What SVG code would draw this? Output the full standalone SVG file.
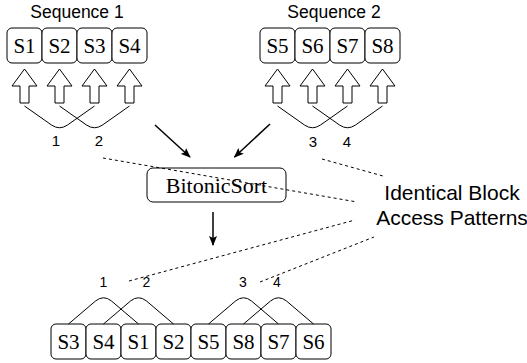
<svg xmlns="http://www.w3.org/2000/svg" xmlns:xlink="http://www.w3.org/1999/xlink" width="527" height="363" viewBox="0 0 527 363">
<style>
.box{fill:#fff;stroke:#000;stroke-width:1}
.st{font-size:21px;text-anchor:middle;fill:#000}
.lab{text-anchor:middle;fill:#000}
.cur{fill:none;stroke:#000;stroke-width:1}
.dash{fill:none;stroke:#000;stroke-width:1;stroke-dasharray:3,3}
.arr{fill:none;stroke:#000;stroke-width:1.5}
.blk{fill:#fff;stroke:#000;stroke-width:1}
</style>
<defs>
<marker id="ah" viewBox="0 0 10 8" refX="9" refY="4" markerWidth="10" markerHeight="8" markerUnits="userSpaceOnUse" orient="auto">
<path d="M0,0 L10,4 L0,8 L2,4 Z" fill="#000"/>
</marker>
<path id="up" d="M0,0 L12.5,17 L4.5,17 L4.5,34 L-4.5,34 L-4.5,17 L-12.5,17 Z"/>
<path id="vee" d="M0,0 L27,19 Q35,24.5 43,19 L70,0"/>
<path id="hat" d="M0,0 L27,-23 Q35,-29.5 43,-23 L70,0"/>
</defs>

<g font-family="'Liberation Sans', Arial, sans-serif">
<text class="lab" x="77" y="18" font-size="17.5">Sequence 1</text>
<text class="lab" x="334" y="18" font-size="17.5">Sequence 2</text>
</g>

<g font-family="'Liberation Serif', 'Times New Roman', serif">
<g id="seq1">
<g id="s1"><rect class="box" x="7" y="28" width="35" height="35" rx="5"/><text class="st" x="24.5" y="53">S1</text></g>
<g id="s2"><rect class="box" x="42" y="28" width="35" height="35" rx="5"/><text class="st" x="59.5" y="53">S2</text></g>
<g id="s3"><rect class="box" x="77" y="28" width="35" height="35" rx="5"/><text class="st" x="94.5" y="53">S3</text></g>
<g id="s4"><rect class="box" x="112" y="28" width="35" height="35" rx="5"/><text class="st" x="129.5" y="53">S4</text></g>
</g>
<g id="seq2">
<g id="s5"><rect class="box" x="260" y="28" width="35" height="35" rx="5"/><text class="st" x="277.5" y="53">S5</text></g>
<g id="s6"><rect class="box" x="295" y="28" width="35" height="35" rx="5"/><text class="st" x="312.5" y="53">S6</text></g>
<g id="s7"><rect class="box" x="330" y="28" width="35" height="35" rx="5"/><text class="st" x="347.5" y="53">S7</text></g>
<g id="s8"><rect class="box" x="365" y="28" width="35" height="35" rx="5"/><text class="st" x="382.5" y="53">S8</text></g>
</g>

<g id="bitonic"><rect class="box" x="147" y="168" width="139" height="34" rx="6"/><text class="st" x="216.5" y="193" style="font-size:22px">BitonicSort</text></g>

<g id="out">
<g id="o1"><rect class="box" x="51" y="324" width="35" height="35" rx="5"/><text class="st" x="68.5" y="349">S3</text></g>
<g id="o2"><rect class="box" x="86" y="324" width="35" height="35" rx="5"/><text class="st" x="103.5" y="349">S4</text></g>
<g id="o3"><rect class="box" x="121" y="324" width="35" height="35" rx="5"/><text class="st" x="138.5" y="349">S1</text></g>
<g id="o4"><rect class="box" x="156" y="324" width="35" height="35" rx="5"/><text class="st" x="173.5" y="349">S2</text></g>
<g id="o5"><rect class="box" x="191" y="324" width="35" height="35" rx="5"/><text class="st" x="208.5" y="349">S5</text></g>
<g id="o6"><rect class="box" x="226" y="324" width="35" height="35" rx="5"/><text class="st" x="243.5" y="349">S8</text></g>
<g id="o7"><rect class="box" x="261" y="324" width="35" height="35" rx="5"/><text class="st" x="278.5" y="349">S7</text></g>
<g id="o8"><rect class="box" x="296" y="324" width="35" height="35" rx="5"/><text class="st" x="313.5" y="349">S6</text></g>
</g>
</g>

<g id="block-arrows">
<use href="#up" xlink:href="#up" class="blk" x="24.5" y="69"/>
<use href="#up" xlink:href="#up" class="blk" x="59.5" y="69"/>
<use href="#up" xlink:href="#up" class="blk" x="94.5" y="69"/>
<use href="#up" xlink:href="#up" class="blk" x="129.5" y="69"/>
<use href="#up" xlink:href="#up" class="blk" x="277.5" y="69"/>
<use href="#up" xlink:href="#up" class="blk" x="312.5" y="69"/>
<use href="#up" xlink:href="#up" class="blk" x="347.5" y="69"/>
<use href="#up" xlink:href="#up" class="blk" x="382.5" y="69"/>
</g>

<g id="connectors">
<use href="#vee" xlink:href="#vee" class="cur" x="24.5" y="106"/>
<use href="#vee" xlink:href="#vee" class="cur" x="59.5" y="106"/>
<use href="#vee" xlink:href="#vee" class="cur" x="277.5" y="106"/>
<use href="#vee" xlink:href="#vee" class="cur" x="312.5" y="106"/>
<use href="#hat" xlink:href="#hat" class="cur" x="68.5" y="324"/>
<use href="#hat" xlink:href="#hat" class="cur" x="103.5" y="324"/>
<use href="#hat" xlink:href="#hat" class="cur" x="208.5" y="324"/>
<use href="#hat" xlink:href="#hat" class="cur" x="243.5" y="324"/>
<line class="arr" x1="155" y1="125" x2="190" y2="157" marker-end="url(#ah)"/>
<line class="arr" x1="270" y1="124" x2="234.5" y2="157" marker-end="url(#ah)"/>
<line class="arr" x1="213" y1="212" x2="213" y2="245" marker-end="url(#ah)"/>
<line class="dash" x1="103" y1="158" x2="357" y2="202"/>
<line class="dash" x1="322" y1="159" x2="383" y2="176"/>
<line class="dash" x1="129" y1="281" x2="355" y2="220"/>
<line class="dash" x1="260" y1="282" x2="374" y2="237"/>
</g>

<g id="labels" font-family="'Liberation Sans', Arial, sans-serif">
<text class="lab" x="56" y="146" font-size="15">1</text>
<text class="lab" x="99" y="146" font-size="15">2</text>
<text class="lab" x="313" y="147" font-size="15">3</text>
<text class="lab" x="347" y="147" font-size="15">4</text>
<text class="lab" x="103.5" y="287" font-size="14">1</text>
<text class="lab" x="146.5" y="287" font-size="14">2</text>
<text class="lab" x="243" y="287" font-size="14">3</text>
<text class="lab" x="277" y="287" font-size="14">4</text>
<text class="lab" x="452" y="200" font-size="21">Identical Block</text>
<text class="lab" x="452" y="225" font-size="21">Access Patterns</text>
</g>
</svg>
